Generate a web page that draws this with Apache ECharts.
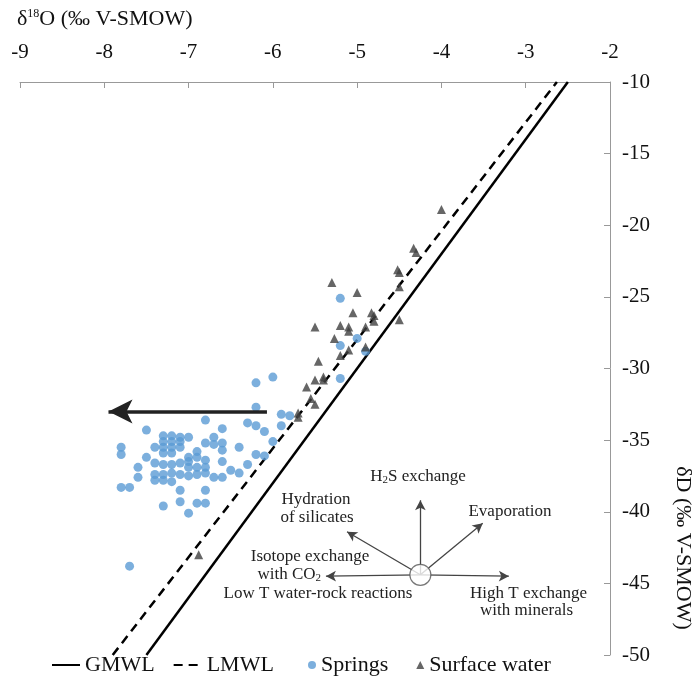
<!DOCTYPE html>
<html>
<head>
<meta charset="utf-8">
<script src="https://cdn.jsdelivr.net/npm/echarts@6/dist/echarts.min.js"></script>
<style>
  html, body { margin: 0; padding: 0; background: #fff; }
  #chart { width: 696px; height: 682px; }
</style>
</head>
<body>
<div id="chart"></div>
<script>
// axis ticks
var xTicks = [-9, -8, -7, -6, -5, -4, -3, -2]
var yTicks = [-50, -45, -40, -35, -30, -25, -20, -15, -10]

// meteoric water lines (d18O, dD)
var gmwl = [[-7.5, -50], [-2.5, -10]]
var lmwl = [[-7.9, -50], [-2.63, -10]]

// springs
var springs = [
  [-6.0, -30.6], [-6.2, -31.0], [-6.2, -32.7], [-5.9, -33.2], [-5.8, -33.3], [-6.8, -33.6],
  [-6.3, -33.8], [-6.2, -34.0], [-5.9, -34.0], [-7.5, -34.3], [-6.6, -34.2], [-6.1, -34.4],
  [-6.0, -35.1], [-6.7, -34.8], [-6.7, -35.3], [-6.6, -35.2], [-6.8, -35.2], [-6.4, -35.5],
  [-6.6, -35.7], [-6.2, -36.0], [-6.1, -36.1], [-6.8, -36.4], [-6.6, -36.5], [-6.3, -36.7],
  [-6.5, -37.1], [-6.4, -37.3],
  [-7.3, -34.7], [-7.2, -34.7], [-7.1, -34.8], [-7.0, -34.8],
  [-7.3, -35.1], [-7.2, -35.1], [-7.1, -35.1],
  [-7.8, -35.5], [-7.8, -36.0],
  [-7.4, -35.5], [-7.3, -35.5], [-7.2, -35.5], [-7.1, -35.5],
  [-7.3, -35.9], [-7.2, -35.9], [-6.9, -35.8],
  [-7.0, -36.2], [-6.9, -36.2], [-7.0, -36.5], [-7.5, -36.2],
  [-7.4, -36.6], [-7.3, -36.7], [-7.2, -36.7], [-7.1, -36.6], [-7.0, -36.9], [-6.9, -36.9],
  [-7.6, -36.9],
  [-7.4, -37.4], [-7.3, -37.4], [-7.2, -37.3], [-7.1, -37.4], [-7.0, -37.5], [-6.9, -37.4],
  [-7.6, -37.6],
  [-7.4, -37.8], [-7.3, -37.8], [-7.2, -37.9],
  [-6.8, -36.9], [-6.8, -37.3], [-6.7, -37.6], [-6.6, -37.6],
  [-7.8, -38.3], [-7.7, -38.3],
  [-7.1, -38.5], [-6.8, -38.5],
  [-7.3, -39.6], [-7.1, -39.3], [-6.9, -39.4], [-6.8, -39.4],
  [-7.0, -40.1],
  [-7.7, -43.8],
  [-5.2, -25.1], [-5.0, -27.9], [-5.2, -28.4], [-4.9, -28.8], [-5.2, -30.7]
]

// surface water
var surface = [
  [-4.0, -18.9], [-4.3, -21.9], [-4.33, -21.6], [-4.5, -23.3], [-4.52, -23.1], [-4.5, -24.3],
  [-4.5, -26.6], [-5.3, -24.0], [-5.0, -24.7], [-5.05, -26.1], [-4.83, -26.1], [-4.8, -26.3],
  [-4.8, -26.7], [-5.5, -27.1], [-5.2, -27.0], [-5.1, -27.1], [-5.1, -27.4], [-4.9, -27.1],
  [-5.27, -27.9], [-4.9, -28.5], [-5.1, -28.7], [-5.2, -29.1], [-5.46, -29.5], [-5.4, -30.6],
  [-5.4, -30.8], [-5.5, -30.8], [-5.6, -31.3], [-5.55, -32.1], [-5.5, -32.5], [-5.7, -33.1],
  [-5.7, -33.4], [-6.88, -43.0]
]

// big shift arrow
var shiftArrow = [[-6.07, -33.0], [-7.95, -33.0]]

// process diagram: centre and arrow tips
var procCentre = [-4.25, -44.4]
var procTips = [[-4.25, -39.2], [-3.51, -40.8], [-5.12, -41.4], [-5.37, -44.5], [-3.2, -44.5]]

var serif = '"Liberation Serif", "DejaVu Serif", serif'

var chart = echarts.init(document.getElementById('chart'))

var procLines = procTips.map(function (t) {
  return [{ coord: procCentre }, { coord: t }]
})

var subRich = { sub: { fontSize: 11, verticalAlign: 'bottom', padding: [6, 0, 0, 0], fill: '#222', fontFamily: serif } }

chart.setOption({
  animation: false,
  textStyle: { fontFamily: serif },
  grid: { left: 20, right: 86, top: 82, bottom: 27 },
  legend: [
    {
      bottom: 1,
      left: 46,
      itemWidth: 28,
      itemHeight: 8,
      itemGap: 18,
      textStyle: { fontFamily: serif, fontSize: 22, color: '#111' },
      data: [
        { name: 'GMWL', itemStyle: { opacity: 0 } },
        { name: 'LMWL', itemStyle: { opacity: 0 } }
      ]
    },
    {
      bottom: 1,
      left: 303,
      itemWidth: 8,
      itemHeight: 8,
      itemGap: 28,
      textStyle: { fontFamily: serif, fontSize: 22, color: '#111' },
      data: ['Springs', 'Surface water']
    }
  ],
  xAxis: {
    type: 'value',
    position: 'top',
    min: xTicks[0],
    max: xTicks[xTicks.length - 1],
    interval: 1,
    splitLine: { show: false },
    axisLine: { lineStyle: { color: '#999' } },
    axisTick: { inside: true, length: 6, lineStyle: { color: '#999' } },
    axisLabel: { fontFamily: serif, fontSize: 21, color: '#111', margin: 19 }
  },
  yAxis: {
    type: 'value',
    position: 'right',
    min: yTicks[0],
    max: yTicks[yTicks.length - 1],
    interval: 5,
    splitLine: { show: false },
    axisLine: { lineStyle: { color: '#999' } },
    axisTick: { inside: true, length: 6, lineStyle: { color: '#999' } },
    axisLabel: { fontFamily: serif, fontSize: 21, color: '#111', margin: 12 }
  },
  graphic: [
    {
      type: 'text', left: 17, top: 8,
      style: {
        text: 'δ{sup|18}O (‰ V-SMOW)',
        font: '22px ' + serif, fill: '#111',
        rich: { sup: { fontSize: 12, verticalAlign: 'top', padding: [0, 0, 8, 0], fontFamily: serif, fill: '#111' } }
      }
    },
    {
      type: 'text', x: 683, y: 548, rotation: -Math.PI / 2,
      style: { text: 'δD (‰ V-SMOW)', font: '22px ' + serif, fill: '#111', align: 'center', verticalAlign: 'middle' }
    },
    { type: 'text', x: 418, y: 477, style: { text: 'H{sub|2}S exchange', font: '17px ' + serif, fill: '#222', align: 'center', verticalAlign: 'middle', rich: subRich } },
    { type: 'text', x: 316, y: 500, style: { text: 'Hydration', font: '17px ' + serif, fill: '#222', align: 'center', verticalAlign: 'middle' } },
    { type: 'text', x: 317, y: 518, style: { text: 'of silicates', font: '17px ' + serif, fill: '#222', align: 'center', verticalAlign: 'middle' } },
    { type: 'text', x: 510, y: 512, style: { text: 'Evaporation', font: '17px ' + serif, fill: '#222', align: 'center', verticalAlign: 'middle' } },
    { type: 'text', x: 310, y: 557, style: { text: 'Isotope exchange', font: '17px ' + serif, fill: '#222', align: 'center', verticalAlign: 'middle' } },
    { type: 'text', x: 321, y: 575, style: { text: 'with CO{sub|2}', font: '17px ' + serif, fill: '#222', align: 'right', verticalAlign: 'middle', rich: subRich } },
    { type: 'text', x: 318, y: 594, style: { text: 'Low T water-rock reactions', font: '17px ' + serif, fill: '#222', align: 'center', verticalAlign: 'middle' } },
    { type: 'text', x: 470, y: 594, style: { text: 'High T exchange', font: '17px ' + serif, fill: '#222', align: 'left', verticalAlign: 'middle' } },
    { type: 'text', x: 480, y: 611, style: { text: 'with minerals', font: '17px ' + serif, fill: '#222', align: 'left', verticalAlign: 'middle' } }
  ],
  series: [
    {
      name: 'GMWL',
      type: 'line',
      data: gmwl,
      symbol: 'none',
      color: '#000',
      lineStyle: { color: '#000', width: 2.5 },
      z: 3
    },
    {
      name: 'LMWL',
      type: 'line',
      data: lmwl,
      symbol: 'none',
      color: '#000',
      lineStyle: { color: '#000', width: 2.5, type: [9, 6] },
      z: 3
    },
    {
      name: 'Springs',
      type: 'scatter',
      data: springs,
      symbol: 'circle',
      symbolSize: 9,
      itemStyle: { color: '#5B9BD5' },
      z: 4
    },
    {
      name: 'Surface water',
      type: 'scatter',
      data: surface,
      symbol: 'triangle',
      symbolSize: 9,
      itemStyle: { color: '#404040' },
      z: 5
    },
    {
      name: 'shift',
      type: 'line',
      data: [],
      silent: true,
      markLine: {
        silent: true,
        symbol: ['none', 'arrow'],
        symbolSize: [18, 24],
        label: { show: false },
        lineStyle: { color: '#222', width: 3.5, type: 'solid' },
        data: [[{ coord: shiftArrow[0] }, { coord: shiftArrow[1] }]]
      },
      z: 6
    },
    {
      name: 'process',
      type: 'line',
      data: [],
      silent: true,
      markLine: {
        silent: true,
        symbol: ['none', 'arrow'],
        symbolSize: [8, 10],
        label: { show: false },
        lineStyle: { color: '#444', width: 1.3, type: 'solid' },
        data: procLines
      },
      z: 6
    },
    {
      name: 'centre',
      type: 'scatter',
      data: [procCentre],
      symbol: 'circle',
      symbolSize: 21,
      silent: true,
      itemStyle: { color: '#fff', borderColor: '#555', borderWidth: 1.2 },
      z: 8
    }
  ]
})
</script>
</body>
</html>
